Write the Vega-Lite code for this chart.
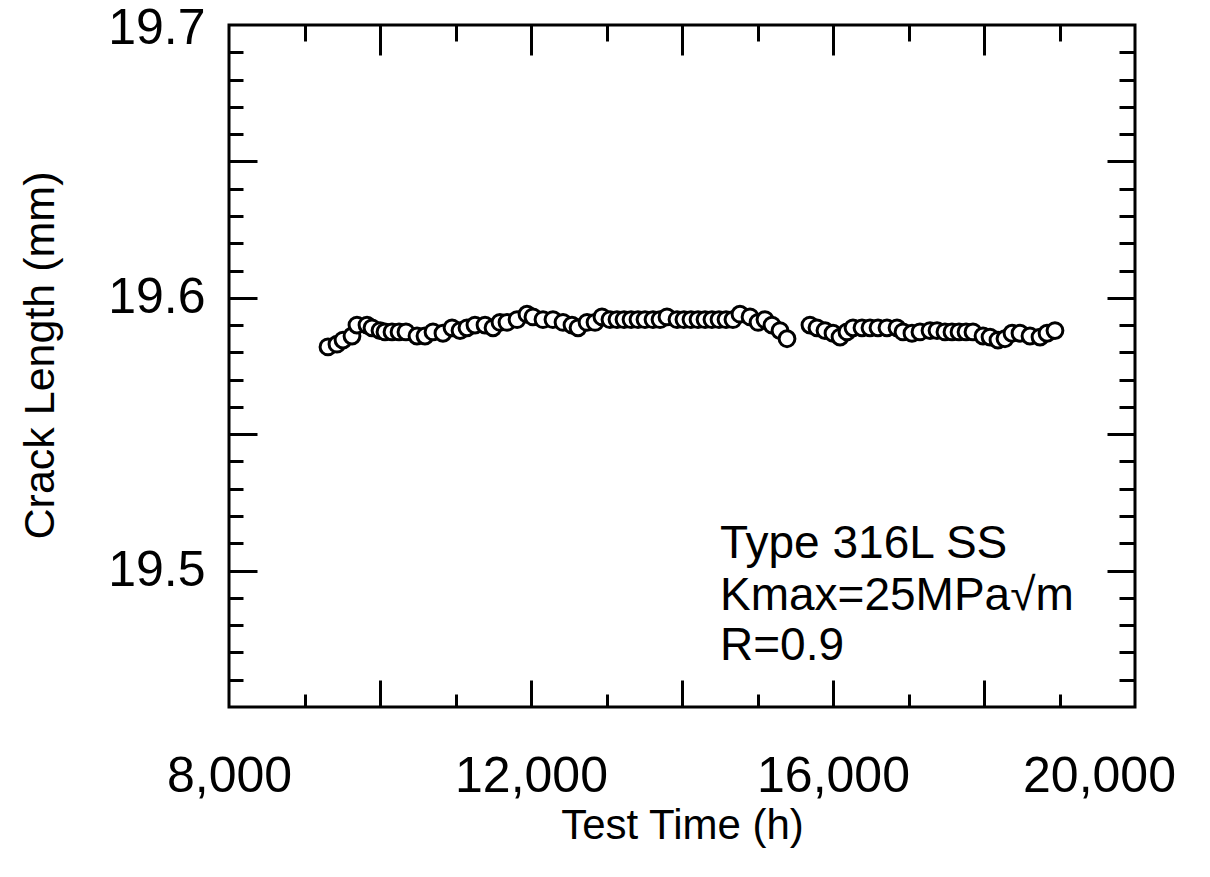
{
  "$schema": "https://vega.github.io/schema/vega-lite/v6.json",
  "autosize": {"type": "none"},
  "padding": {"left": 229, "top": 25, "right": 75, "bottom": 170},
  "width": 906,
  "height": 682,
  "background": "white",
  "config": {
    "view": {"stroke": "black", "strokeWidth": 3},
    "font": "Liberation Sans",
    "axis": {"grid": false, "domain": false, "tickColor": "black", "tickWidth": 3, "labelColor": "black", "titleColor": "black", "labelFont": "Liberation Sans", "titleFont": "Liberation Sans", "titleFontWeight": "normal", "labelFlush": false, "labelOverlap": false, "labelBound": false}
  },
  "datasets": {
    "pts": [
      {"t": 9311, "a": 19.582}, {"t": 9430, "a": 19.583}, {"t": 9510, "a": 19.5845}, {"t": 9629, "a": 19.586},
      {"t": 9695, "a": 19.590}, {"t": 9828, "a": 19.590}, {"t": 9894, "a": 19.589}, {"t": 10000, "a": 19.588},
      {"t": 10066, "a": 19.5875}, {"t": 10159, "a": 19.5875}, {"t": 10252, "a": 19.5875}, {"t": 10344, "a": 19.5875},
      {"t": 10490, "a": 19.586}, {"t": 10596, "a": 19.586}, {"t": 10702, "a": 19.5875}, {"t": 10834, "a": 19.587},
      {"t": 10954, "a": 19.589}, {"t": 11060, "a": 19.588}, {"t": 11152, "a": 19.589}, {"t": 11258, "a": 19.590},
      {"t": 11391, "a": 19.590}, {"t": 11497, "a": 19.589}, {"t": 11589, "a": 19.591}, {"t": 11682, "a": 19.591},
      {"t": 11815, "a": 19.592}, {"t": 11947, "a": 19.594}, {"t": 12026, "a": 19.593}, {"t": 12159, "a": 19.592},
      {"t": 12291, "a": 19.592}, {"t": 12424, "a": 19.591}, {"t": 12543, "a": 19.590}, {"t": 12623, "a": 19.589},
      {"t": 12742, "a": 19.591}, {"t": 12848, "a": 19.591}, {"t": 12940, "a": 19.593}, {"t": 13046, "a": 19.592},
      {"t": 13139, "a": 19.592}, {"t": 13232, "a": 19.592}, {"t": 13325, "a": 19.592}, {"t": 13417, "a": 19.592},
      {"t": 13510, "a": 19.592}, {"t": 13616, "a": 19.592}, {"t": 13709, "a": 19.592}, {"t": 13801, "a": 19.593},
      {"t": 13934, "a": 19.592}, {"t": 14026, "a": 19.592}, {"t": 14119, "a": 19.592}, {"t": 14212, "a": 19.592},
      {"t": 14305, "a": 19.592}, {"t": 14397, "a": 19.592}, {"t": 14490, "a": 19.592}, {"t": 14583, "a": 19.592},
      {"t": 14675, "a": 19.592}, {"t": 14768, "a": 19.594}, {"t": 14901, "a": 19.593}, {"t": 15007, "a": 19.591},
      {"t": 15099, "a": 19.592}, {"t": 15192, "a": 19.590}, {"t": 15298, "a": 19.588}, {"t": 15391, "a": 19.585},
      {"t": 15695, "a": 19.590}, {"t": 15788, "a": 19.589}, {"t": 15894, "a": 19.588}, {"t": 16000, "a": 19.587},
      {"t": 16093, "a": 19.5856}, {"t": 16185, "a": 19.5875}, {"t": 16265, "a": 19.589}, {"t": 16384, "a": 19.589},
      {"t": 16490, "a": 19.589}, {"t": 16596, "a": 19.589}, {"t": 16715, "a": 19.589}, {"t": 16848, "a": 19.589},
      {"t": 16927, "a": 19.5875}, {"t": 17046, "a": 19.587}, {"t": 17152, "a": 19.5875}, {"t": 17285, "a": 19.588},
      {"t": 17378, "a": 19.588}, {"t": 17483, "a": 19.5875}, {"t": 17576, "a": 19.5875}, {"t": 17669, "a": 19.5875},
      {"t": 17762, "a": 19.5875}, {"t": 17854, "a": 19.5875}, {"t": 17987, "a": 19.586}, {"t": 18080, "a": 19.5856},
      {"t": 18185, "a": 19.5845}, {"t": 18278, "a": 19.585}, {"t": 18371, "a": 19.587}, {"t": 18477, "a": 19.587},
      {"t": 18609, "a": 19.586}, {"t": 18742, "a": 19.5856}, {"t": 18835, "a": 19.587}, {"t": 18940, "a": 19.588}
    ],
    "notes": [
      {"t": 14503, "a": 19.5046, "label": "Type 316L SS"},
      {"t": 14503, "a": 19.4855, "label": "Kmax=25MPa√m"},
      {"t": 14503, "a": 19.4672, "label": "R=0.9"}
    ]
  },
  "layer": [
    {
      "data": {"name": "pts"},
      "mark": {"type": "point", "shape": "circle", "filled": false, "fill": "white", "fillOpacity": 1, "stroke": "black", "strokeWidth": 3, "size": 250, "opacity": 1},
      "encoding": {
        "x": {"field": "t", "type": "quantitative", "scale": {"domain": [8000, 20000], "nice": false, "zero": false},
              "axis": {"orient": "bottom", "values": [8000, 12000, 16000, 20000], "format": ",d", "ticks": false, "tickSize": 0, "labelPadding": 44, "labelFontSize": 50,
                       "labelOffset": {"condition": {"test": "datum.value == 20000", "value": -36}, "value": 0},
                       "title": "Test Time (h)", "titleFontSize": 42, "titleY": 98, "titleBaseline": "top"}},
        "y": {"field": "a", "type": "quantitative", "scale": {"domain": [19.45, 19.7], "nice": false, "zero": false},
              "axis": {"orient": "left", "values": [19.5, 19.6, 19.7], "format": ".1f", "ticks": false, "tickSize": 0, "labelPadding": 24, "labelFontSize": 50,
                       "labelOffset": {"condition": {"test": "datum.value > 19.65", "value": 3}, "value": 0},
                       "title": "Crack Length (mm)", "titleFontSize": 43, "titleX": -167, "titleY": 330, "titleAngle": -90, "titleBaseline": "bottom"}}
      }
    },
    {
      "data": {"name": "pts"},
      "mark": {"type": "point", "opacity": 0},
      "encoding": {
        "x": {"field": "t", "type": "quantitative", "axis": {"orient": "bottom", "values": [9000, 11000, 13000, 15000, 17000, 19000], "tickSize": -13, "labels": false, "title": null}},
        "y": {"field": "a", "type": "quantitative", "axis": {"orient": "left", "values": [19.46, 19.47, 19.48, 19.49, 19.51, 19.52, 19.53, 19.54, 19.56, 19.57, 19.58, 19.59, 19.61, 19.62, 19.63, 19.64, 19.66, 19.67, 19.68, 19.69], "tickSize": -14, "labels": false, "title": null}}
      }
    },
    {
      "data": {"name": "pts"},
      "mark": {"type": "point", "opacity": 0},
      "encoding": {
        "x": {"field": "t", "type": "quantitative", "axis": {"orient": "bottom", "values": [10000, 12000, 14000, 16000, 18000], "tickSize": -27, "labels": false, "title": null}},
        "y": {"field": "a", "type": "quantitative", "axis": {"orient": "left", "values": [19.5, 19.55, 19.6, 19.65], "tickSize": -28, "labels": false, "title": null}}
      }
    },
    {
      "data": {"name": "pts"},
      "mark": {"type": "point", "opacity": 0},
      "encoding": {
        "x": {"field": "t", "type": "quantitative", "axis": {"orient": "top", "values": [9000, 11000, 13000, 15000, 17000, 19000], "tickSize": -16, "labels": false, "title": null}},
        "y": {"field": "a", "type": "quantitative", "axis": {"orient": "right", "values": [19.46, 19.47, 19.48, 19.49, 19.51, 19.52, 19.53, 19.54, 19.56, 19.57, 19.58, 19.59, 19.61, 19.62, 19.63, 19.64, 19.66, 19.67, 19.68, 19.69], "tickSize": -16, "labels": false, "title": null}}
      }
    },
    {
      "data": {"name": "pts"},
      "mark": {"type": "point", "opacity": 0},
      "encoding": {
        "x": {"field": "t", "type": "quantitative", "axis": {"orient": "top", "values": [10000, 12000, 14000, 16000, 18000], "tickSize": -30, "labels": false, "title": null}},
        "y": {"field": "a", "type": "quantitative", "axis": {"orient": "right", "values": [19.5, 19.55, 19.6, 19.65], "tickSize": -28, "labels": false, "title": null}}
      }
    },
    {
      "data": {"name": "notes"},
      "mark": {"type": "text", "align": "left", "baseline": "alphabetic", "fontSize": 46, "font": "Liberation Sans", "color": "black"},
      "encoding": {
        "x": {"field": "t", "type": "quantitative", "axis": null},
        "y": {"field": "a", "type": "quantitative", "axis": null},
        "text": {"field": "label", "type": "nominal"}
      }
    }
  ],
  "resolve": {"axis": {"x": "independent", "y": "independent"}}
}
